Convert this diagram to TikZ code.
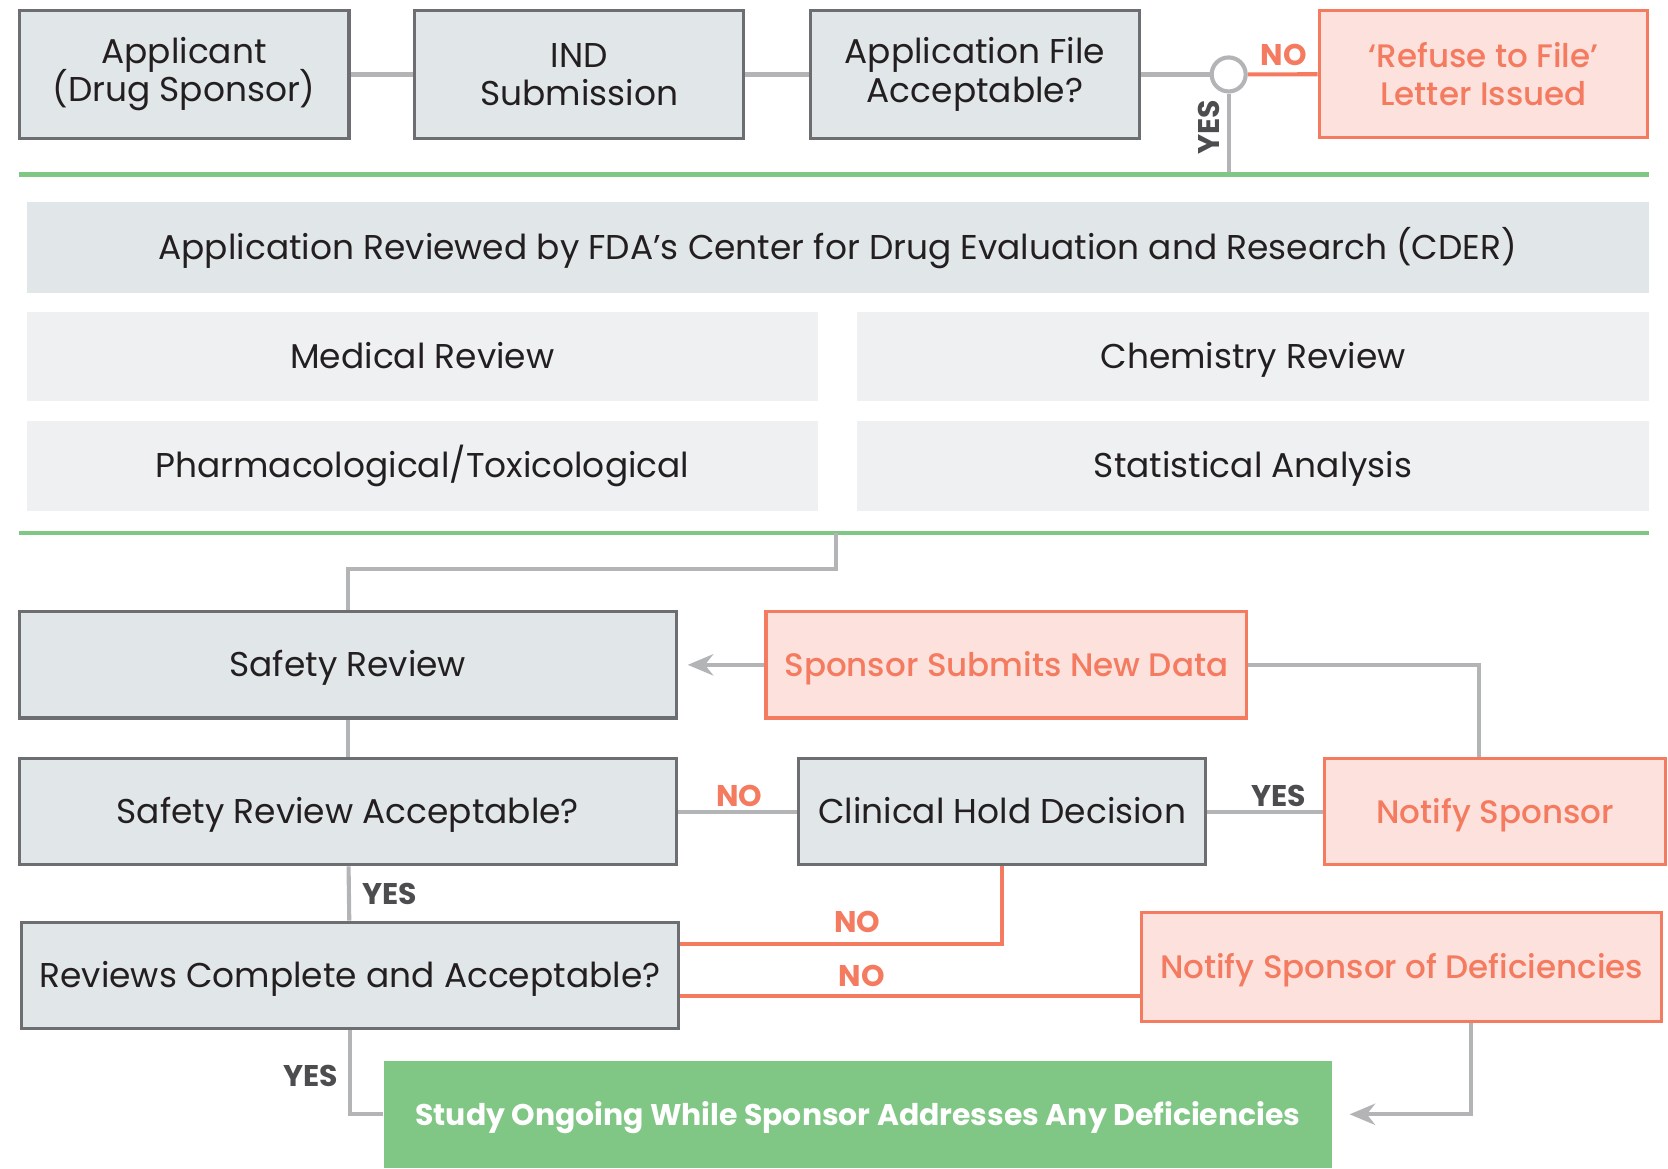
\documentclass[tikz,border=0pt]{standalone}
\usepackage{fontspec}
\setmainfont{Poppins}
\newfontfamily\medfont{Poppins Medium}
\usepackage{xcolor}
\usetikzlibrary{arrows.meta}

\definecolor{boxgray}{HTML}{E1E6E8}
\definecolor{revgray}{HTML}{EEF0F1}
\definecolor{edgegray}{HTML}{6D6E71}
\definecolor{linegray}{HTML}{B2B4B6}
\definecolor{fdaorange}{HTML}{F47B60}
\definecolor{fdapink}{HTML}{FDE1DC}
\definecolor{fdagreen}{HTML}{80C684}
\definecolor{inkgray}{HTML}{231F20}
\definecolor{labelgray}{HTML}{4D4D4F}
\newcommand{\tightlines}{\lineskiplimit=-6pt\relax}

\begin{document}
\begin{tikzpicture}[
    stepbox/.style={draw=edgegray, line width=0.85pt, fill=boxgray, align=center, inner sep=0pt,
        text=inkgray, font=\fontsize{9.2}{10.2}\selectfont\tightlines},
    alertbox/.style={draw=fdaorange, line width=0.85pt, fill=fdapink, align=center, inner sep=0pt,
        text=fdaorange, font=\fontsize{8.7}{10.2}\selectfont\medfont\tightlines},
    revbox/.style={fill=revgray, align=center, inner sep=0pt, text=inkgray,
        font=\fontsize{9.2}{10.2}\selectfont},
    oneline/.style={text height=8.2pt, text depth=1.8pt},
    link/.style={linegray, line width=1.1pt},
    nolink/.style={fdaorange, line width=1.1pt},
    yeslabel/.style={text=labelgray, font=\fontsize{8}{9}\selectfont\bfseries},
    nolabel/.style={text=fdaorange, font=\fontsize{8}{9}\selectfont\bfseries},
    sepline/.style={fdagreen, line width=1.1pt}
]
\useasboundingbox (0,0) rectangle (15.68,-10.98);

% top row
\node[stepbox, minimum width=3.10cm, minimum height=1.20cm] (app) at (1.73,-0.70) {Applicant\\(Drug Sponsor)};
\node[stepbox, minimum width=3.09cm, minimum height=1.20cm] (ind) at (5.445,-0.70) {IND\\Submission};
\node[stepbox, minimum width=3.09cm, minimum height=1.20cm] (filechk) at (9.165,-0.70) {Application File\\Acceptable?};
\node[draw=linegray, line width=1.1pt, fill=white, circle, minimum size=0.32cm, inner sep=0pt] (junc) at (11.55,-0.70) {};
\node[alertbox, minimum width=3.09cm, minimum height=1.19cm] (refuse) at (13.945,-0.695) {‘Refuse to File’\\Letter Issued};

\draw[link] (filechk) -- (junc);
\draw[link] (app) -- (ind);
\draw[link] (ind) -- (filechk);
\draw[nolink] (junc) -- (refuse);
\node[nolabel] (nofile) at (12.07,-0.52) {NO};

\coordinate (sepA) at (11.55,-1.64);
\draw[link] (junc) -- (sepA);
\node[yeslabel, rotate=90] (yesfile) at (11.36,-1.20) {YES};

\draw[sepline] (0.18,-1.64) -- (15.50,-1.64);

% CDER review
\node[revbox, oneline, fill=boxgray, minimum width=15.25cm, minimum height=0.85cm] (cder) at (7.875,-2.325)
    {Application Reviewed by FDA’s Center for Drug Evaluation and Research (CDER)};
\node[revbox, oneline, minimum width=7.44cm, minimum height=0.84cm] (medrev) at (3.97,-3.35) {Medical Review};
\node[revbox, oneline, minimum width=7.44cm, minimum height=0.84cm] (chemrev) at (11.78,-3.35) {Chemistry Review};
\node[revbox, oneline, minimum width=7.44cm, minimum height=0.84cm] (pharmrev) at (3.97,-4.38) {Pharmacological/Toxicological};
\node[revbox, oneline, minimum width=7.44cm, minimum height=0.84cm] (statrev) at (11.78,-4.38) {Statistical Analysis};

\draw[sepline] (0.18,-5.01) -- (15.50,-5.01);

% safety path
\node[stepbox, oneline, minimum width=6.18cm, minimum height=1.00cm] (safety) at (3.27,-6.25) {Safety Review};
\node[alertbox, oneline, minimum width=4.52cm, minimum height=1.00cm] (newdata) at (9.46,-6.25) {Sponsor Submits New Data};
\node[stepbox, oneline, minimum width=6.18cm, minimum height=1.00cm] (safeok) at (3.27,-7.63) {Safety Review Acceptable?};
\node[stepbox, oneline, minimum width=3.82cm, minimum height=1.00cm] (hold) at (9.42,-7.63) {Clinical Hold Decision};
\node[alertbox, oneline, minimum width=3.21cm, minimum height=1.00cm] (notify) at (14.055,-7.63) {Notify Sponsor};
\node[stepbox, oneline, minimum width=6.18cm, minimum height=1.00cm] (complete) at (3.29,-9.17) {Reviews Complete and Acceptable?};
\node[alertbox, oneline, minimum width=4.89cm, minimum height=1.02cm] (deficient) at (13.175,-9.09) {Notify Sponsor of Deficiencies};
\node[fill=fdagreen, text=white, inner sep=0pt, minimum width=8.91cm, minimum height=1.01cm,
    text height=7.4pt, text depth=1.2pt,
    font=\fontsize{8}{9}\selectfont\bfseries] (ongoing) at (8.065,-10.475)
    {Study Ongoing While Sponsor Addresses Any Deficiencies};

\coordinate (tap) at (7.86,-5.01);
\draw[link] (tap) -- ++(0,-0.34) -| (safety);
\draw[link, -{Stealth[length=0.24cm, width=0.2cm]}, shorten >=0.09cm] (newdata) -- (safety);
\draw[link] (newdata) -| ([xshift=-0.15cm]notify.north);
\draw[link] (safety) -- (safeok);

\draw[link] (safeok) -- (hold);
\node[nolabel] (nohold) at (6.95,-7.48) {NO};
\draw[link] (hold) -- (notify);
\node[yeslabel] (yesnotify) at (12.02,-7.48) {YES};

\draw[link] (safeok) -- (complete);
\node[yeslabel] (yessafe) at (3.66,-8.40) {YES};

\draw[nolink] (hold.south) |- ([yshift=0.30cm]complete.east);
\node[nolabel] (noholdb) at (8.06,-8.67) {NO};
\coordinate (defout) at ([yshift=-0.19cm]complete.east);
\draw[nolink] (defout) -- (defout -| deficient.west);
\node[nolabel] (nodef) at (8.10,-9.17) {NO};

\draw[link] (complete) |- (ongoing);
\node[yeslabel] (yesdone) at (2.92,-10.11) {YES};
\draw[link, -{Stealth[length=0.24cm, width=0.2cm]}, shorten >=0.16cm]
    ([xshift=0.65cm]deficient.south) |- (ongoing.east);
\end{tikzpicture}
\end{document}
